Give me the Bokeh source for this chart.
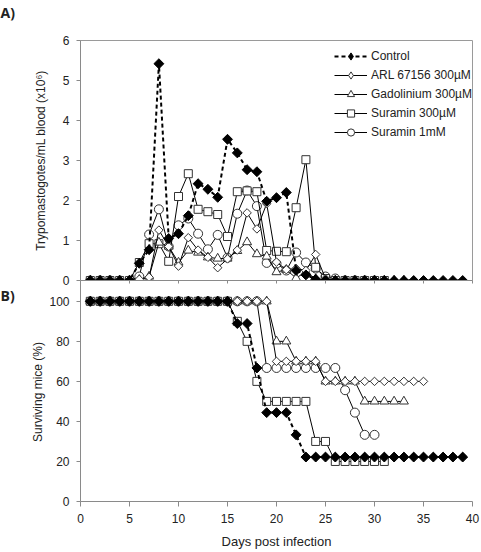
import numpy as np
from bokeh.plotting import figure
from bokeh.models import (Range1d, FixedTicker, Legend, LegendItem, Title, LinearAxis,
                          ColumnDataSource)
from bokeh.layouts import column
from bokeh.embed import file_html
from bokeh.resources import INLINE

FONT = "Liberation Sans"

# ---------------- data ----------------
days_control = [1, 2, 3, 4, 5, 6, 7, 8, 9, 10, 11, 12, 13, 14, 15, 16, 17, 18, 19, 20,
                21, 22, 23, 24, 25, 26, 27, 28, 29, 30, 31, 32, 33, 34, 35, 36, 37, 38, 39]
days_arl = days_control[:35]
days_gd = days_control[:33]
days_sur300 = days_control[:31]
days_sur1 = days_control[:30]

# Panel A: trypomastigotes/mL blood (x10^6)
para_control = [0, 0, 0, 0, 0, 0.43, 0.77, 5.42, 1.05, 1.17,
                1.62, 2.42, 2.28, 2.08, 3.53, 3.19, 2.77, 2.72, 1.98, 2.07,
                2.2, 0.25, 0.14, 0.03, 0, 0, 0, 0, 0, 0,
                0, 0, 0, 0, 0, 0, 0, 0, 0]
para_arl = [0, 0, 0, 0, 0, 0.03, 0.08, 1.26, 0.85, 0.36,
            1.07, 0.76, 0.58, 0.32, 0.54, 0.76, 1.69, 1.29, 1.92, 0.46,
            0.27, 0.3, 0.25, 0.65, 0.05, 0, 0, 0, 0, 0,
            0, 0, 0, 0, 0]
para_gd = [0, 0, 0, 0, 0, 0.02, 0.1, 0.95, 0.85, 0.45,
           0.75, 0.7, 0.58, 0.55, 0.55, 0.74, 0.96, 0.66, 0.6, 0.21,
           0.27, 0.06, 0.22, 0.04, 0, 0, 0, 0, 0, 0,
           0, 0, 0]
para_sur300 = [0, 0, 0, 0, 0, 0.45, 0.92, 0.92, 0.48, 2.1,
               2.67, 1.78, 1.72, 1.65, 1.1, 2.22, 2.24, 2.22, 0.75, 0.73,
               0.72, 1.82, 3.02, 0.33, 0.05, 0, 0, 0, 0, 0,
               0]
para_sur1 = [0, 0, 0, 0, 0, 0.1, 1.15, 1.78, 0.85, 1.38,
             1.55, 1.17, 0.78, 1.14, 0.57, 1.67, 2.25, 1.86, 0.44, 0.42,
             0.25, 0.7, 0.45, 0.3, 0.1, 0.05, 0, 0, 0, 0]

# Panel B: surviving mice (%)
surv_control = [100, 100, 100, 100, 100, 100, 100, 100, 100, 100,
                100, 100, 100, 100, 100, 88.9, 88.9, 66.7, 44.4, 44.4,
                44.4, 33.3, 22.2, 22.2, 22.2, 22.2, 22.2, 22.2, 22.2, 22.2,
                22.2, 22.2, 22.2, 22.2, 22.2, 22.2, 22.2, 22.2, 22.2]
surv_arl = [100, 100, 100, 100, 100, 100, 100, 100, 100, 100,
            100, 100, 100, 100, 100, 100, 100, 100, 100, 70,
            70, 70, 70, 70, 60, 60, 60, 60, 60, 60,
            60, 60, 60, 60, 60]
surv_gd = [100, 100, 100, 100, 100, 100, 100, 100, 100, 100,
           100, 100, 100, 100, 100, 100, 100, 100, 100, 80,
           80, 70, 70, 70, 60, 60, 60, 60, 50, 50,
           50, 50, 50]
surv_sur300 = [100, 100, 100, 100, 100, 100, 100, 100, 100, 100,
               100, 100, 100, 100, 100, 90, 80, 60, 50, 50,
               50, 50, 50, 30, 30, 20, 20, 20, 20, 20,
               20]
surv_sur1 = [100, 100, 100, 100, 100, 100, 100, 100, 100, 100,
             100, 100, 100, 100, 100, 100, 100, 100, 66.7, 66.7,
             66.7, 66.7, 66.7, 66.7, 66.7, 66.7, 55.6, 44.4, 33.3, 33.3]

labels = ["Control", "ARL 67156 300\u00b5M", "Gadolinium 300\u00b5M",
          "Suramin 300\u00b5M", "Suramin 1mM"]
y_ticks_a = [0, 1, 2, 3, 4, 5, 6]
y_ticks_b = [0, 20, 40, 60, 80, 100]
x_ticks = [0, 5, 10, 15, 20, 25, 30, 35, 40]

# ---------------- styles ----------------
AX = "#8a8a8a"
TXT = "#222222"
styles = [
    dict(marker="square", angle=np.pi / 4, size=7, fill_color="black", line_color="black", dash="4 3", lw=2,
         leg_marker="diamond"),
    dict(marker="square", angle=np.pi / 4, size=6, fill_color="white", line_color="#333333", dash="solid", lw=1,
         leg_marker="diamond"),
    dict(marker="triangle", angle=0, size=9, fill_color="white", line_color="#333333", dash="solid", lw=1,
         leg_marker="triangle"),
    dict(marker="square", angle=0, size=8, fill_color="white", line_color="#333333", dash="solid", lw=1,
         leg_marker="square"),
    dict(marker="circle", angle=0, size=9, fill_color="white", line_color="#333333", dash="solid", lw=1,
         leg_marker="circle"),
]

x_range = Range1d(0, 40)


def style_axis(ax, size="12px"):
    ax.axis_line_color = AX
    ax.major_tick_line_color = AX
    ax.minor_tick_line_color = None
    ax.major_tick_in = 0
    ax.major_label_text_font = FONT
    ax.major_label_text_font_size = "12px"
    ax.major_label_text_color = TXT
    ax.axis_label_text_font = FONT
    ax.axis_label_text_font_size = size
    ax.axis_label_text_font_style = "normal"
    ax.axis_label_text_color = TXT


# ---------------- panel A ----------------
pa = figure(width=481, height=306, x_range=x_range, y_range=Range1d(0, 6),
            output_backend="svg", toolbar_location=None, x_axis_location=None,
            min_border=0, min_border_left=80, min_border_right=9, min_border_top=59,
            min_border_bottom=7)
pa.margin = (-19, 0, 0, 0)
pa.grid.visible = False
pa.outline_line_color = "#9a9a9a"
pa.background_fill_color = "white"
pa.border_fill_color = "white"
pa.yaxis.ticker = FixedTicker(ticks=y_ticks_a)
pa.yaxis.axis_label = "Trypomastogotes/mL blood (x10\u2076)"
style_axis(pa.yaxis[0])
pa.yaxis.major_tick_out = 4
pa.yaxis.major_label_standoff = 7
pa.yaxis.axis_label_standoff = 12

xa = LinearAxis(ticker=FixedTicker(ticks=x_ticks))
style_axis(xa)
xa.major_tick_out = 3
xa.major_label_overrides = {t: "" for t in x_ticks}
xa.major_label_text_font_size = "1px"
xa.major_label_standoff = 0
pa.add_layout(xa, "below")

series_a = [(days_control, para_control), (days_arl, para_arl), (days_gd, para_gd),
            (days_sur300, para_sur300), (days_sur1, para_sur1)]
rends = [None] * 5
for i in [4, 3, 2, 1, 0]:
    xs, ys = series_a[i]
    st = styles[i]
    src = ColumnDataSource(data=dict(x=xs, y=ys))
    ln = pa.line("x", "y", source=src, line_color="black", line_width=st["lw"], line_dash=st["dash"])
    pa.scatter("x", "y", source=src, marker=st["marker"], angle=st["angle"], size=st["size"],
               fill_color=st["fill_color"], line_color=st["line_color"], line_width=1)
    # legend-only marker renderer (a single undefined point: nothing is drawn in the plot)
    lm = pa.scatter([np.nan], [np.nan], marker=st["leg_marker"],
                    fill_color=st["fill_color"], line_color=st["line_color"], line_width=1)
    rends[i] = [ln, lm]
items = [LegendItem(label=labels[i], renderers=rends[i]) for i in range(5)]

legend = Legend(items=items, location=(254, 139), padding=0, margin=0, spacing=1,
                glyph_width=33, glyph_height=18, label_height=18, label_standoff=4,
                border_line_color=None, background_fill_alpha=0,
                label_text_font=FONT, label_text_font_size="12px", label_text_color=TXT)
pa.add_layout(legend)

ta = Title(text="A)", align="left", offset=-80, standoff=38,
           text_font="Open Sans", text_font_style="bold", text_font_size="14px", text_color=TXT)
pa.add_layout(ta, "above")

# ---------------- panel B ----------------
pb = figure(width=481, height=271, x_range=x_range, y_range=Range1d(0, 109.4),
            output_backend="svg", toolbar_location=None,
            min_border=0, min_border_left=80, min_border_right=9, min_border_top=2,
            min_border_bottom=48)
pb.margin = (-7, 0, 0, 0)
pb.grid.visible = False
pb.outline_line_color = None
pb.background_fill_alpha = 0
pb.border_fill_alpha = 0
pb.yaxis.ticker = FixedTicker(ticks=y_ticks_b)
pb.xaxis.ticker = FixedTicker(ticks=x_ticks)
pb.yaxis.axis_label = "Surviving mice (%)"
pb.xaxis.axis_label = "Days post infection"
style_axis(pb.yaxis[0])
style_axis(pb.xaxis[0], size="13px")
pb.yaxis.major_tick_out = 4
pb.yaxis.major_label_standoff = 7
pb.yaxis.axis_label_standoff = 1
pb.xaxis.major_tick_out = 5
pb.xaxis.major_label_standoff = 7
pb.xaxis.axis_label_standoff = 8

series_b = [(days_control, surv_control), (days_arl, surv_arl), (days_gd, surv_gd),
            (days_sur300, surv_sur300), (days_sur1, surv_sur1)]
for i in [4, 3, 2, 1, 0]:
    xs, ys = series_b[i]
    st = styles[i]
    pb.line(xs, ys, line_color="black", line_width=st["lw"], line_dash=st["dash"])
    pb.scatter(xs, ys, marker=st["marker"], angle=st["angle"], size=st["size"],
               fill_color=st["fill_color"], line_color=st["line_color"], line_width=1)

tb = Title(text="B)", align="left", offset=-80, standoff=-44,
           text_font="Open Sans", text_font_style="bold", text_font_size="14px", text_color=TXT)
pb.add_layout(tb, "above")

layout = column(pa, pb, spacing=0)
open("out.html", "w").write(file_html(layout, INLINE))
